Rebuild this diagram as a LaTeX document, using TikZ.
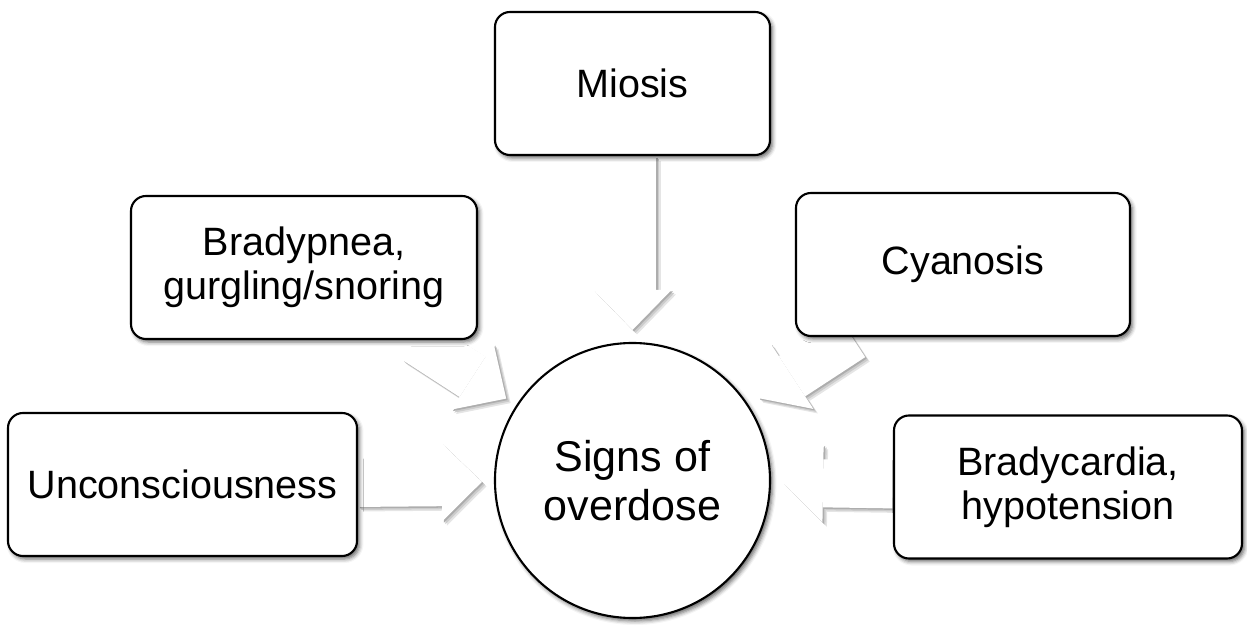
\documentclass[tikz,border=0pt]{standalone}
\usepackage{fontspec}
\setmainfont{Liberation Sans}
\usetikzlibrary{arrows.meta, positioning, backgrounds, shadows.blur}

% white block arrow with a soft shadow, from node #1 to node #2
\newcommand{\signarrow}[2]{%
  \draw[blk, black!10, transform canvas={shift={(0.09cm,-0.09cm)}}] (#1) -- (#2);
  \draw[blk, black!20, transform canvas={shift={(0.06cm,-0.06cm)}}] (#1) -- (#2);
  \draw[blk, black!32, transform canvas={shift={(0.03cm,-0.03cm)}}] (#1) -- (#2);
  \draw[blk, white] (#1) -- (#2);
}

\begin{document}
\begin{tikzpicture}[
      box/.style={rectangle, rounded corners=0.3cm, draw=black, line width=1.2pt,
                  fill=white, minimum height=2.86cm, align=center,
                  font=\fontsize{22.5}{25}\selectfont,
                  blur shadow={shadow xshift=0.05cm, shadow yshift=-0.06cm,
                               shadow blur radius=0.08cm, shadow opacity=60}},
      hub/.style={circle, draw=black, line width=1.2pt, fill=white,
                  minimum size=5.5cm, inner sep=0pt, align=center,
                  font=\fontsize{24.5}{28}\selectfont,
                  blur shadow={shadow xshift=0.05cm, shadow yshift=-0.06cm,
                               shadow blur radius=0.08cm, shadow opacity=60}},
      blk/.style={line width=0.96cm, shorten >=0.24cm,
                  -{Triangle[width=1.56cm, length=0.8cm, line width=0pt]}}
    ]
    \useasboundingbox (-12.65,-2.97) rectangle (12.29,9.61);
    \node[hub] (c) at (0,0) {Signs of\\ overdose};
    \node[box, minimum width=5.5cm, on grid, above=7.94cm of c] (mio) {Miosis};
    \node[box, minimum width=6.92cm, on grid, above left=4.26cm and 6.57cm of c] (brp) {Bradypnea,\\ gurgling/snoring};
    \node[box, minimum width=6.68cm, on grid, above right=4.32cm and 6.61cm of c] (cya) {Cyanosis};
    \node[box, minimum width=6.98cm, on grid, below left=0.08cm and 9.0cm of c] (unc) {Unconsciousness};
    \node[box, minimum width=6.96cm, on grid, below right=0.13cm and 8.71cm of c] (brc) {Bradycardia,\\ hypotension};
    \begin{scope}[on background layer]
      \signarrow{mio}{c}
      \signarrow{brp}{c}
      \signarrow{cya}{c}
      \signarrow{unc}{c}
      \signarrow{brc}{c}
    \end{scope}
  \end{tikzpicture}
\end{document}
